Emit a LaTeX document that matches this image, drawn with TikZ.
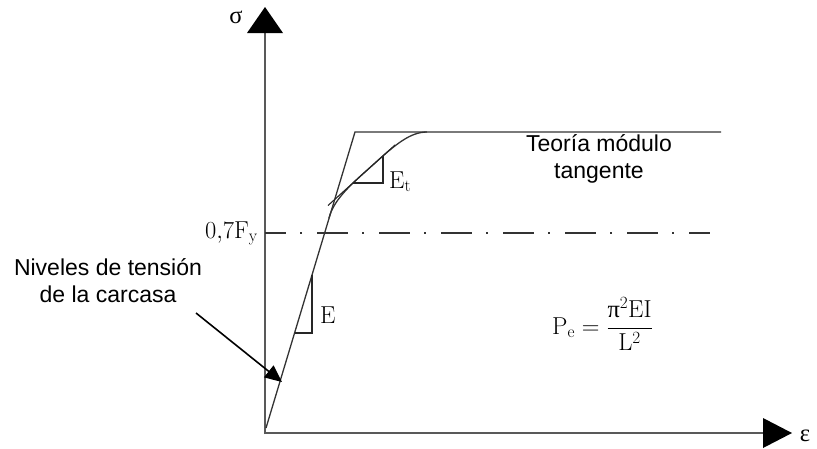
\RequirePackage{fix-cm}
\documentclass[tikz,border=0pt]{standalone}
\usepackage{fontspec}
\newfontfamily\arialf{Liberation Sans}
\newfontfamily\grk{Liberation Serif}
\usetikzlibrary{arrows.meta}
\begin{document}
\begin{tikzpicture}[x=1pt,y=-1pt,
  axisline/.style={line width=2pt,draw=black!65},
  curveline/.style={line width=1.3pt,draw=black!80},
  thinline/.style={line width=1.1pt,draw=black!85},
  serif/.style={font=\fontsize{24.5}{28}\selectfont, inner sep=0pt},
  sans/.style={font=\arialf\fontsize{23}{27}\selectfont, inner sep=0pt, align=center},
  dashdot/.style={line width=1.3pt, draw=black!80, dash pattern=on 31pt off 14pt on 2pt off 15pt, dash phase=10pt}]
\useasboundingbox (0,0) rectangle (817,448);
% axes
\coordinate (O) at (265,433);
\coordinate (ytop) at (265,7);
\coordinate (xend) at (792,433);
\draw[axisline,-{Triangle[length=26pt,width=36pt,color=black,fill=black,line width=0pt]}] (265,434) -- (ytop);
\draw[axisline,-{Triangle[length=29pt,width=30pt,color=black,fill=black,line width=0pt]}] (264,433) -- (xend);
\node[serif] (sigma) at (236,17) {\grk σ};
\node[serif] (eps) at (805,436) {\grk ε};
% elastic-plastic
\coordinate (p0) at (266,428);
\coordinate (pk) at (355,132);
\coordinate (pend) at (721,132);
\draw[curveline] (p0) -- (pk) -- (pend);
% tangent modulus curve
\coordinate (c0) at (329,218);
\coordinate (cm) at (375,163);
\coordinate (c1) at (427,132);
\draw[curveline] (c0) .. controls (334,198) and (355,181) .. (cm) .. controls (395,145) and (410,132) .. (c1);
\coordinate (t0) at (328,205.5);
\coordinate (t1) at (395,145);
\draw[thinline] (t0) -- (t1);
% Et triangle
\coordinate (ea) at (353,183);
\coordinate (eb) at (383,156);
\draw[thinline] (ea) -- (383,183) -- (eb);
\node[serif,anchor=base west] (Et) at (389,188) {$\mathrm{E}_{\mathrm{t}}$};
% E triangle
\coordinate (fa) at (294.6,333);
\coordinate (fb) at (312,275);
\draw[thinline] (fa) -- (312,333) -- (fb);
\node[serif,anchor=base west] (E) at (320,323) {$\mathrm{E}$};
% 0.7Fy
\coordinate (d0) at (265,233);
\coordinate (d1) at (710,233);
\draw[dashdot] (d0) -- (d1);
\node[serif,anchor=base east] (fy) at (258,238) {$0{,}7\mathrm{F}_{\mathrm{y}}$};
% texts
\node[sans,anchor=base] (teoria) at (599,178) {Teoría módulo\\tangente};
\node[sans,anchor=base] (niveles) at (108,302) {Niveles de tensión\\de la carcasa};
\node[serif,anchor=base west] (pe) at (552,334) {$\displaystyle \mathrm{P}_{\mathrm{e}}=\frac{\mbox{\grk π}^{2}\mathrm{EI}}{\mathrm{L}^{2}}$};
% arrow
\coordinate (ntail) at (196,313);
\coordinate (nhead) at (282,382);
\draw[line width=1.6pt,-{Triangle[length=17pt,width=15pt]}] (ntail) -- (nhead);
\end{tikzpicture}
\end{document}
